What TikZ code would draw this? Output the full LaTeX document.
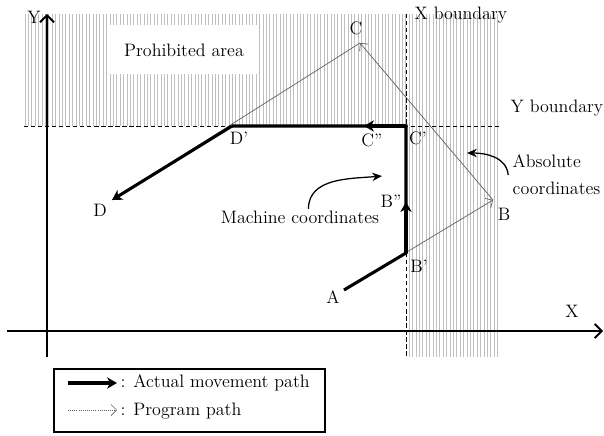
\documentclass[tikz,border=0pt]{standalone}
\usetikzlibrary{arrows.meta}
\begin{document}
\begin{tikzpicture}[x=0.025cm,y=0.025cm,every node/.style={font=\fontsize{12.8}{15}\selectfont,inner sep=1pt},
  actline/.style={line width=2.2pt},
  actual/.style={line width=2.2pt,-{Stealth[length=7pt,width=8pt,inset=2pt]}},
  program/.style={gray!75!black,line width=0.5pt,-{Straight Barb[length=4pt,width=8pt]}},
  bound/.style={line width=0.6pt,dash pattern=on 3pt off 2pt},
  axis/.style={line width=1.3pt,-{Straight Barb[length=5pt,width=10pt]}},
  callout/.style={line width=0.9pt,-{Stealth[length=7pt,width=6pt]}}]
\useasboundingbox (0,0) rectangle (604,435);
\begin{scope}
\clip (24,309) rectangle (500,421) (407,78) rectangle (500,309);
\foreach \x in {25,28.4,...,500} \draw[gray!50,line width=0.6pt] (\x,78) -- (\x,421);
\end{scope}
\fill[white] (110,361) rectangle (257,410);
\node (prohib) at (184,385) {Prohibited area};
\coordinate (xs) at (7,104); \coordinate (xe) at (603,104);
\coordinate (ys) at (47,78); \coordinate (ye) at (47,421);
\draw[axis] (xs) -- (xe);
\draw[axis] (ys) -- (ye);
\node (xlab) at (572,124) {X};
\node (ylab) at (34,418) {Y};
\draw[bound] (24,309) -- (500,309);
\draw[bound] (406,421) -- (406,78);
\node[anchor=west] (xbnd) at (413,420) {X boundary};
\node (ybnd) at (557,327) {Y boundary};
\coordinate (A) at (344,145); \coordinate (B) at (493,235);
\coordinate (C) at (360,392); \coordinate (D) at (112,235);
\coordinate (B1) at (406,182); \coordinate (B2) at (406,233);
\coordinate (C1) at (406,309); \coordinate (C2) at (364,309);
\coordinate (D1) at (232,309);
\draw[program] (A) -- (B);
\draw[program] (B) -- (C);
\draw[program,-] (C) -- (D);
\draw[actline,line join=miter] (A) -- (B1) -- (C1) -- (D1);
\draw[actual] (B1) -- (B2);
\draw[actual] (C1) -- (C2);
\draw[actual] (D1) -- (D);
\node (alab) at (333,138) {A};
\node (blab) at (504,221) {B};
\node (clab) at (356,407) {C};
\node (dlab) at (100,225) {D};
\node (b1lab) at (419,169) {B'};
\node (b2lab) at (391,234) {B''};
\node (c1lab) at (418,297) {C'};
\node (c2lab) at (372,295) {C''};
\node (d1lab) at (239,297) {D'};
\node[align=left,anchor=west,font=\fontsize{12.8}{19}\selectfont] (abs) at (511,260) {Absolute\\coordinates};
\coordinate (abstip) at (467,282);
\draw[callout] ([xshift=-2pt]abs.west) to[out=95,in=0] (abstip);
\node (mach) at (300,218) {Machine coordinates};
\coordinate (machtip) at (382,259);
\draw[callout] ([xshift=6pt]mach.north) to[out=90,in=185] (machtip);
\draw[line width=0.8pt] (54,3) rectangle (325,66);
\coordinate (la1) at (68,52); \coordinate (la2) at (117,52);
\coordinate (lb1) at (68,25); \coordinate (lb2) at (117,25);
\draw[actual,line width=2.4pt] (la1) -- (la2);
\draw[program,densely dotted] (lb1) -- (lb2);
\node[anchor=west] (leg1) at (119,52) {: Actual movement path};
\node[anchor=west] (leg2) at (119,24) {: Program path};
\end{tikzpicture}
\end{document}
